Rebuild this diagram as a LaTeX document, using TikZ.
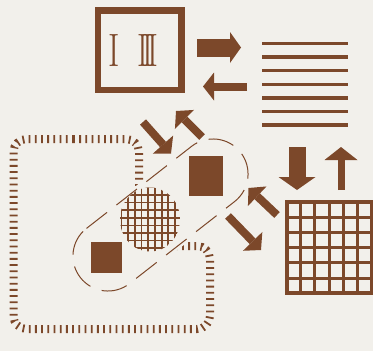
\documentclass[tikz,border=0pt]{standalone}
\usepackage{graphicx}
\usepackage{fontspec}
\usetikzlibrary{arrows.meta}
\definecolor{ink}{RGB}{124,72,42}
\definecolor{paper}{RGB}{242,240,235}
\begin{document}
\begin{tikzpicture}[x=1pt,y=-1pt,
  arrw/.style n args={3}{draw=ink, line width=#1, -{Triangle[length=#2,width=#3,line width=0pt]}},
  numeral/.style={text=ink, inner sep=0pt, font=\fontsize{30}{30}\selectfont},
  solidsq/.style n args={2}{fill=ink, draw=none, inner sep=0pt, minimum width=#1, minimum height=#2},
  ticks/.style={draw=ink, line width=8pt, dash pattern=on 1.8pt off 4.4pt, rounded corners=13pt},
  capsuleline/.style={draw=ink, line width=1pt, dash pattern=on 26pt off 12pt},
  hatch/.style={draw=ink, line width=1.7pt},
  stripe/.style={draw=ink, line width=3.5pt},
  gridline/.style={draw=ink, line width=3pt}
]
\fill[paper] (0,0) rectangle (373,351);
\useasboundingbox (0,0) rectangle (373,351);

% tick-mark outline (L-shaped rounded region)
\draw[ticks] (60,139) -- (139,139) -- (139,246) -- (210,246) -- (210,329) -- (13.5,329) -- (13.5,139) -- cycle;

% capsule: hide ticks beneath it
\filldraw[fill=paper, draw=paper, line width=6pt] (86.5,228.4) -- (191.5,146.4) arc[start angle=-128,end angle=52,radius=35] -- (129.5,283.6) arc[start angle=52,end angle=232,radius=35] -- cycle;

% hatched disc
\begin{scope}
  \clip (150,219.5) ellipse [x radius=30, y radius=32];
  \foreach \i in {-1,...,8} \draw[hatch] ({128.3+6.67*\i},180) -- ({128.3+6.67*\i},260);
  \foreach \j in {-1,...,8} \draw[hatch] (115,{195+7.6*\j}) -- (185,{195+7.6*\j});
\end{scope}

% dashed capsule outline
\draw[capsuleline] (86.5,228.4) -- (191.5,146.4) arc[start angle=-128,end angle=52,radius=35] -- (129.5,283.6) arc[start angle=52,end angle=232,radius=35] -- cycle;

% squares
\node[solidsq={34.5pt}{39.5pt}] (midsq) at (205.75,175.75) {};
\node[solidsq={31pt}{31pt}] (smallsq) at (106.5,257.5) {};

% framed box with numerals
\node[draw=ink, line width=6.5pt, minimum width=83.5pt, minimum height=79.5pt, inner sep=0pt] (box) at (139.75,50.25) {};
\node[numeral] (one) at (114,51) {\scalebox{1.15}[1.56]{I}};
\node[numeral] (three) at (147.5,51) {\scalebox{1.1}[1.56]{I\kern-5.3ptI\kern-5.3ptI}};

% stack of lines
\foreach \k in {0,...,6} \draw[stripe] (262,{43.5+13.6*\k}) -- (348,{43.5+13.6*\k});

% grid
\foreach \i in {1,...,5} \draw[gridline] ({286.5+85/6*\i},202.3) -- ({286.5+85/6*\i},293.3);
\foreach \j in {1,...,5} \draw[gridline] (286.5,{202.3+91/6*\j}) -- (371.5,{202.3+91/6*\j});
\draw[draw=ink, line width=4pt] (286.5,202.3) rectangle (371.5,293.3);

% arrow end points
\coordinate (r1) at (197,47.5);  \coordinate (r2) at (241,47.5);
\coordinate (l1) at (247,86.5);  \coordinate (l2) at (203,86.5);
\coordinate (d1) at (297,147);   \coordinate (d2) at (297,190);
\coordinate (u1) at (341,190);   \coordinate (u2) at (341,147);
\coordinate (a1) at (143,122);   \coordinate (a2) at (171,153.5);
\coordinate (b1) at (202,137);   \coordinate (b2) at (176,111);
\coordinate (c1) at (277,215);   \coordinate (c2) at (248.5,188);
\coordinate (e1) at (228,216);   \coordinate (e2) at (261,250);

\draw[arrw={18pt}{11pt}{31pt}] (r1) -- (r2);
\draw[arrw={8pt}{11pt}{28pt}] (l1) -- (l2);
\draw[arrw={17pt}{13pt}{37pt}] (d1) -- (d2);
\draw[arrw={7pt}{13pt}{33pt}] (u1) -- (u2);
\draw[arrw={8pt}{12pt}{27pt}] (a1) -- (a2);
\draw[arrw={8pt}{12pt}{27pt}] (b1) -- (b2);
\draw[arrw={8pt}{12pt}{27pt}] (c1) -- (c2);
\draw[arrw={8pt}{12pt}{27pt}] (e1) -- (e2);
\end{tikzpicture}
\end{document}
